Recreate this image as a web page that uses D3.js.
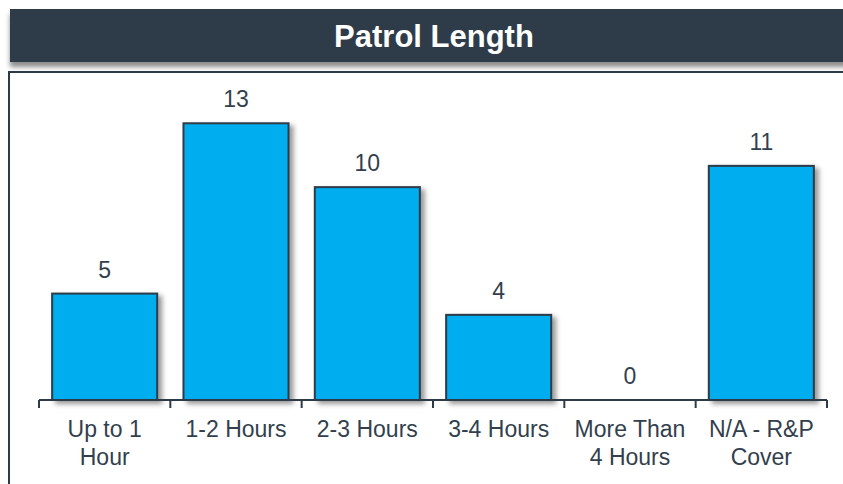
<!DOCTYPE html>
<html>
<head>
<meta charset="utf-8">
<script src="https://cdn.jsdelivr.net/npm/d3@7"></script>
<style>
  body { margin: 0; background: #fff; }
  svg { display: block; font-family: Arial, "Liberation Sans", sans-serif; }
</style>
</head>
<body>
<svg id="chart" width="843" height="484"></svg>
<script>
// ------------ DATA -----------------
const title = "Patrol Length";
const categories = [
  ["Up to 1", "Hour"],
  ["1-2 Hours"],
  ["2-3 Hours"],
  ["3-4 Hours"],
  ["More Than", "4 Hours"],
  ["N/A - R&P", "Cover"]
];
const counts = [5, 13, 10, 4, 0, 11];

const dark = "#2d3a48";
const textCol = "#333f4d";
const barFill = "#00aeef";

// ------------ SETUP -----------------
const svg = d3.select("#chart");
const defs = svg.append("defs");

defs.append("filter").attr("id", "barShadow")
  .attr("x", "-10%").attr("y", "-10%").attr("width", "130%").attr("height", "130%")
  .append("feDropShadow")
  .attr("dx", 4).attr("dy", 3).attr("stdDeviation", 2.5)
  .attr("flood-color", "#000").attr("flood-opacity", 0.4);

defs.append("filter").attr("id", "headShadow")
  .attr("x", "-5%").attr("y", "-10%").attr("width", "110%").attr("height", "150%")
  .append("feDropShadow")
  .attr("dx", 0).attr("dy", 5).attr("stdDeviation", 2.5)
  .attr("flood-color", "#000").attr("flood-opacity", 0.45);

// header band
svg.append("rect")
  .attr("x", 10).attr("y", 9).attr("width", 850).attr("height", 53)
  .attr("fill", dark)
  .attr("filter", "url(#headShadow)");

svg.append("text")
  .attr("x", 434).attr("y", 47)
  .attr("text-anchor", "middle")
  .attr("fill", "#fff")
  .attr("font-size", 31)
  .attr("font-weight", "bold")
  .text(title);

// chart frame
svg.append("rect")
  .attr("x", 9).attr("y", 72).attr("width", 850).attr("height", 430)
  .attr("fill", "none")
  .attr("stroke", dark)
  .attr("stroke-width", 2);

// ------------ SCALES -----------------
const x = d3.scaleBand()
  .domain(d3.range(categories.length))
  .range([39, 827])
  .paddingInner(0.2)
  .paddingOuter(0.1);

const y = d3.scaleLinear()
  .domain([0, 14])
  .range([400, 102]);

const rows = counts.map((v, i) => ({ i, v }));

// ------------ BARS -----------------
svg.append("g")
  .selectAll("rect")
  .data(rows.filter(d => d.v > 0))
  .join("rect")
  .attr("x", d => x(d.i))
  .attr("y", d => y(d.v))
  .attr("width", x.bandwidth())
  .attr("height", d => y(0) - y(d.v))
  .attr("fill", barFill)
  .attr("stroke", dark)
  .attr("stroke-width", 2)
  .attr("filter", "url(#barShadow)");

// value labels
svg.append("g")
  .selectAll("text")
  .data(rows)
  .join("text")
  .attr("x", d => x(d.i) + x.bandwidth() / 2)
  .attr("y", d => y(d.v) - 16)
  .attr("text-anchor", "middle")
  .attr("fill", textCol)
  .attr("font-size", 23)
  .text(d => d.v);

// ------------ AXIS -----------------
const axis = svg.append("g");
axis.append("line")
  .attr("x1", 39).attr("x2", 827)
  .attr("y1", y(0)).attr("y2", y(0))
  .attr("stroke", dark).attr("stroke-width", 2);

const step = x.step();
const tickXs = d3.range(categories.length + 1).map(i => x.range()[0] + i * step);
axis.selectAll(".tick")
  .data(tickXs)
  .join("line")
  .attr("x1", d => d).attr("x2", d => d)
  .attr("y1", y(0)).attr("y2", y(0) + 8)
  .attr("stroke", dark).attr("stroke-width", 2);

const labels = axis.selectAll(".cat")
  .data(categories)
  .join("text")
  .attr("text-anchor", "middle")
  .attr("fill", textCol)
  .attr("font-size", 23);

labels.each(function (lines, i) {
  d3.select(this).selectAll("tspan")
    .data(lines)
    .join("tspan")
    .attr("x", x(i) + x.bandwidth() / 2)
    .attr("y", (d, j) => 437 + j * 28)
    .text(d => d);
});
</script>
</body>
</html>
